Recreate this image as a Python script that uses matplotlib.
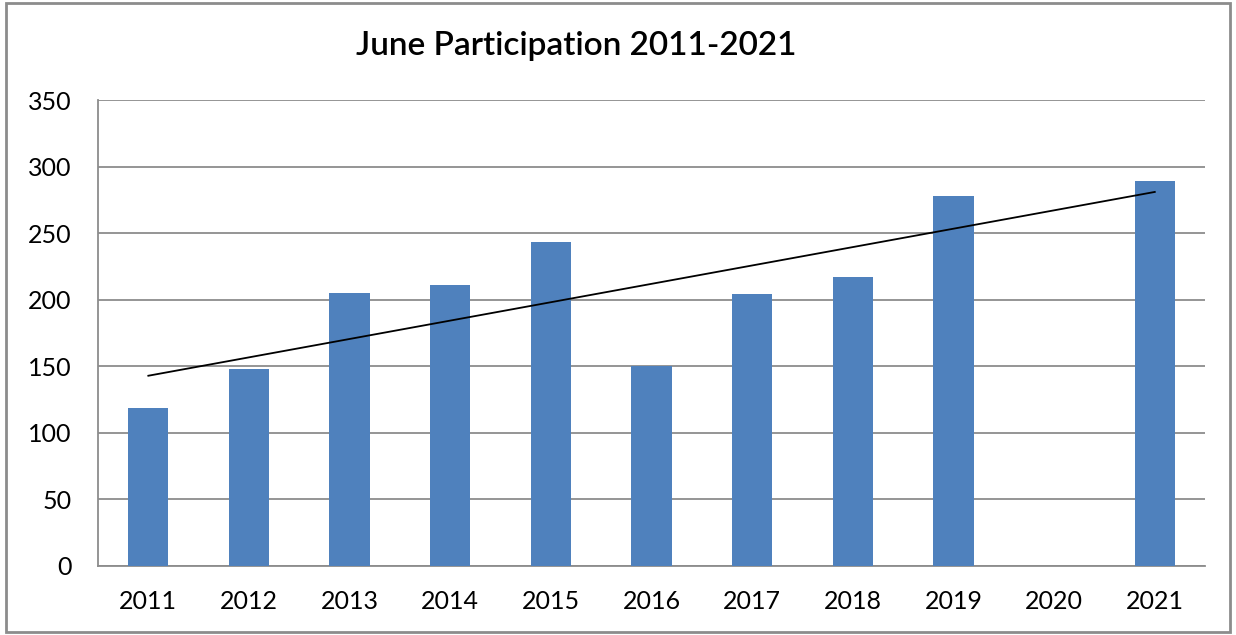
import matplotlib
matplotlib.use("Agg")
import matplotlib.pyplot as plt
import numpy as np

years = ['2011', '2012', '2013', '2014', '2015', '2016', '2017', '2018', '2019', '2020', '2021']
participants = [119, 148, 205, 211, 243, 150, 204, 217, 278, np.nan, 289]

plt.rcParams['font.family'] = ['Lato', 'DejaVu Sans']

fig = plt.figure(figsize=(12.36, 6.35), dpi=100)
ax = fig.add_axes([0.0793, 0.1087, 0.8957, 0.7338])

x = np.arange(len(years))
y = np.array(participants, dtype=float)
ax.bar(x, np.nan_to_num(y), width=0.4, color='#4F81BD', zorder=3)

# linear trendline over the years that have data
mask = ~np.isnan(y)
slope, intercept = np.polyfit(x[mask], y[mask], 1)
ax.plot([x[0], x[-1]], [intercept + slope * x[0], intercept + slope * x[-1]],
        color='black', linewidth=1.3, zorder=4)

ax.set_xlim(-0.5, len(years) - 0.5)
ax.set_ylim(0, 350)
ax.set_yticks(np.arange(0, 351, 50))
ax.set_xticks(x)
ax.set_xticklabels(years)
ax.tick_params(axis='both', length=0, labelsize=18)
ax.tick_params(axis='x', pad=17)
ax.tick_params(axis='y', pad=19)
ax.grid(axis='y', color='#8c8c8c', linewidth=1.3, zorder=0)
for side in ['top', 'right']:
    ax.spines[side].set_visible(False)
for side in ['left', 'bottom']:
    ax.spines[side].set_color('#8c8c8c')
    ax.spines[side].set_linewidth(1.3)

fig.text(0.466, 0.928, 'June Participation 2011-2021', ha='center', va='center',
         fontsize=24, fontweight='semibold')

border = plt.Rectangle((0.005, 0.005), 0.99, 0.99, transform=fig.transFigure,
                       fill=False, edgecolor='#8c8c8c', linewidth=2)
fig.patches.append(border)

fig.savefig('out.png', dpi=100)
